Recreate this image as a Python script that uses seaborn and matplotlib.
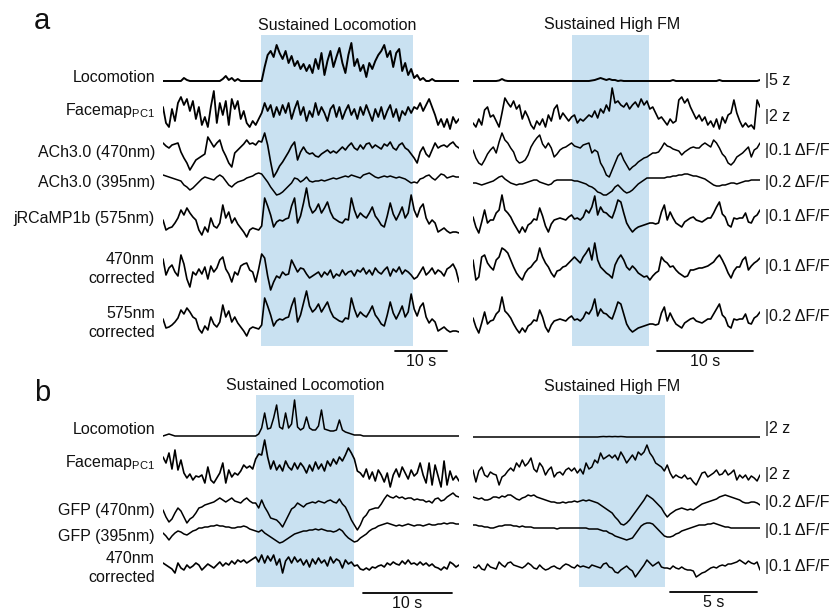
import numpy as np
import matplotlib
matplotlib.use('Agg')
import matplotlib.pyplot as plt
import seaborn as sns
from matplotlib.patches import Rectangle

sns.set_theme(style='white')
plt.rcParams['font.family'] = ['Liberation Sans', 'DejaVu Sans']
plt.rcParams['mathtext.default'] = 'regular'
plt.rcParams['text.color'] = '#111111'

W, H = 833, 613

# ---------------- data (trace values, px-like units, up = positive) ----------------
# Panel a, left (Sustained Locomotion), 57 s window
aL_loco = [0,0,0,0,0,0,0,3,1,0, 0,0,0,0,0,0,0,0,0,0, 2,5,1,3,0,2,0,0,0,0, 0,0,0,0,
           14,26,30,24,36,28,22,30,18,25,15,20,12,17,10,16,8,22,12,28,6,20,30,14,24,33,18,8,26,38,
           15,22,10,16,4,18,12,20,26,30,36,24,30,14,28,32,10,18,6,12,3,
           6,1,3,0,0,2,0,0,0,0,0,0,0,0,0]
aL_fm = [6,-10,-14,4,-8,10,16,8,14,2,12,-6,6,-12,-4,-14,6,22,-10,10,-2,12,-12,14,4,12,-6,2,-10,-14,-8,-12,-6,
         0,10,2,8,-4,6,-2,8,0,10,-6,4,12,-2,6,-8,2,-4,10,-2,6,0,-8,4,8,-4,6,-6,2,8,-2,4,-6,6,-2,8,0,-8,4,-4,6,-6,2,8,-4,4,-8,2,-2,6,0,6,
         4,10,2,8,14,6,-2,-12,-6,-14,-6,-16,-4,-10,-6]
aL_ach470 = [7,4,2,5,6,7,-2,-8,-13,-20,-15,-10,-8,-6,-4,13,8,3,7,10,0,-6,-13,-17,-3,0,3,6,10,6,
             7,5,9,8,17,5,-12,-27,-22,-16,-12,-7,-2,4,8,-10,-2,3,-2,-4,-3,-6,-7,-4,-2,0,-3,-1,-3,0,
             3,0,4,7,2,0,5,1,6,7,2,5,3,1,6,4,8,2,0,5,7,2,0,-4,-8,-13,-2,3,-4,-7,0,7,2,4,5,3,6,8,4,2]
aL_ach395 = [8,7,6,5,4,3,2,-2,-4,-7,-5,-2,1,4,6,5,4,3,6,8,6,2,-2,-4,-1,1,2,3,5,6,
             7,9,10,9,5,1,-4,-8,-12,-11,-9,-6,-3,0,5,4,1,3,6,2,1,2,2,3,2,3,4,5,4,5,
             6,7,6,8,7,6,5,8,9,10,8,6,5,6,7,6,7,6,5,6,5,4,2,0,1,0,4,5,7,8,5,3,6,9,8,5,6,7,6,6]
aL_rcamp = [8,-2,0,1,5,10,18,13,20,15,11,8,-2,-7,1,-4,10,2,0,5,23,10,16,5,10,4,0,-4,-9,-2,
            0,-1,-2,2,30,22,13,1,6,8,7,9,10,22,30,5,12,25,40,22,15,18,24,15,20,26,16,10,8,6,
            5,9,8,30,18,10,15,12,10,15,21,12,8,3,1,12,25,14,8,14,21,10,15,33,18,11,20,24,10,4,
            8,5,-4,-2,0,-3,-5,-4,-4,-5]
aL_470c = [13,-3,4,7,0,-4,17,8,-7,-15,0,-3,3,-2,5,-7,6,0,4,12,15,3,-2,-10,0,-3,6,8,9,2,
           0,-10,3,18,14,-4,-18,-10,-4,-6,0,-3,-2,12,6,0,4,3,-2,-6,-4,-2,0,-5,0,-3,2,-6,-2,-4,
           2,-3,0,1,-4,2,0,4,-2,2,-3,4,0,-2,2,5,-4,3,0,5,-2,2,0,-3,-7,-5,0,5,-3,0,4,-2,2,0,-4,3,5,8,2,-10]
aL_575c = [8,-1,0,2,5,9,17,13,19,15,10,8,-2,-6,1,-3,10,3,0,5,22,10,16,5,10,4,0,-4,-9,-2,
           0,-1,-2,2,29,21,12,1,6,8,7,9,10,21,29,5,12,24,36,21,15,18,23,15,20,25,16,10,8,6,
           5,9,8,29,18,10,15,12,10,15,21,12,8,3,1,12,25,14,8,14,21,10,15,33,18,11,20,24,10,4,
           8,5,-4,-2,0,-3,-5,-4,-4,-5]

# Panel a, right (Sustained High FM), 29.6 s window
aR_loco = [0,0,0,0,0,0,0,0,0,0.5,2,0.5,0,0,0,0,0,0,0,0, 0,0,0,0,0,0,0,0,0,0,
           0,0,0,0,0,0,0,0,0,0, 0,0.5,1,2,3,2,1,2,1,1, 0,0.5,0,0,0,0,0,0,0,0,
           0,0,0,0,0,0,0,0,0,1, 0,0,0,0,0,0,0,0,0,0, 0,0,0,0,0,1,0,0,0,0,
           0,0,0,0,0,0,0,0,0,1]
aR_fm = [-8,-12,-4,-10,5,8,-2,0,-6,-12,2,17,12,8,14,6,10,-4,4,-2,-10,-14,-6,-10,-4,-12,0,-6,6,10,
         -4,2,-2,-6,-2,0,-8,-4,-6,-3,0,-2,4,-3,6,2,10,4,27,12,14,10,8,12,6,10,13,8,16,10,
         14,6,8,2,-4,-2,-6,-10,-4,-8,-6,15,18,12,16,8,2,-4,0,-6,-2,-10,-6,-12,-4,-14,-2,-8,0,2,
         15,2,-6,-12,-8,-12,-10,-14,15,8]
aR_ach470 = [0,-8,-13,-15,-10,-4,0,3,-3,8,17,10,7,2,-2,-10,-13,-12,-10,-5,3,8,12,15,6,2,7,2,-7,-4,
             0,2,3,5,7,4,3,2,5,6,7,-3,0,-2,-13,-18,-25,-27,-20,-13,-6,-3,-10,-15,-20,-17,-15,-12,-10,-8,
             -7,-5,-3,-3,-2,2,7,4,3,1,0,-1,-5,-2,0,2,3,2,2,5,7,5,3,10,7,2,-4,-7,-13,-15,
             -12,-7,-5,-3,0,3,-7,0,2,7]
aR_ach395 = [0,0,-1,-2,-1,0,1,2,4,6,7,4,2,0,-1,-2,-1,-1,0,1,2,3,3,1,0,-1,-2,-1,2,3,
             3,3,3,3,3,2,2,1,0,-1,-3,-4,-6,-9,-10,-12,-12,-10,-8,-4,-2,-5,-8,-10,-9,-7,-4,-1,1,3,
             5,5,5,5,5,5,5,6,6,7,7,8,8,9,9,8,7,7,6,5,4,2,0,-2,-3,-3,-2,-2,-1,0,
             0,-1,0,1,2,2,3,3,3,3]
aR_rcamp = [5,-5,-11,0,12,-1,2,2,9,12,27,12,9,5,-1,-6,-11,-5,-10,-3,-1,3,2,14,6,-4,-10,-2,2,3,
            4,3,2,5,7,3,4,2,5,12,9,15,26,7,15,10,9,6,4,12,22,20,9,-1,-6,-10,-7,-5,-4,-3,
            -2,-1,-1,-2,-1,10,17,2,10,4,-1,-3,-5,0,2,4,5,2,1,0,2,4,4,9,15,20,8,5,-3,-5,
            4,3,4,4,9,0,-1,5,7,12]
aR_470c = [3,-17,-14,6,8,0,-4,-7,3,6,15,13,10,3,-4,-10,-14,-17,-10,-6,-4,0,3,15,6,0,-4,-10,-14,-8,
           -7,-4,-3,0,3,6,3,0,6,10,15,3,20,3,-4,-7,-10,-12,-15,-2,4,8,3,-4,-7,-3,-6,-10,-12,-14,
           -13,-17,-13,-10,-8,6,2,0,-4,-3,-7,-10,-12,-14,-13,-7,-7,-6,-5,-5,-4,-3,-1,1,5,8,3,-3,-10,-15,
           -8,-4,-4,3,6,-7,-3,0,2,5]
aR_575c = [5,-4,-10,0,11,-1,2,3,9,12,26,12,9,5,-1,-6,-10,-5,-9,-3,-1,3,2,13,6,-4,-9,-2,2,3,
           4,3,2,5,7,3,4,2,5,11,9,14,24,7,14,10,9,6,4,12,21,19,9,-1,-6,-9,-7,-5,-4,-3,
           -2,-1,-1,-2,-1,10,16,2,10,4,-1,-3,-5,0,2,4,5,2,1,0,2,4,4,9,14,19,8,5,-3,-5,
           4,3,4,4,9,0,-1,5,7,11]

# Panel b, left (Sustained Locomotion), 33.3 s window
bL_loco = [0,1,2,1,0,0,0,0,0,0, 0,0,0,0,0,0,0,0,0,0, 0,0,0,0,0,0,0,0,0,0, 0,0,2,8,
           23,7,8,18,31,9,7,23,8,12,36,9,6,8,19,8,6,6,10,26,7,6,5,5,6,16,6,4,3,2,1,1,1,
           0,0,0,0,0,0,0,0,0,0, 0,0,0,0,0,0,0,0,0,0, 0,0,0,0,0,0,0,0,0,0, 0,0,0]
bL_fm = [10,4,14,-2,17,-3,7,-6,-11,-7,-13,-9,-10,-8,-16,0,-13,-16,-11,-6,4,-16,-3,-10,-6,-8,-4,2,-1,1,
         -2,8,13,12,27,10,-2,6,-3,2,-4,6,0,-3,4,-2,4,0,-6,2,-4,5,-2,3,-4,6,1,8,3,10,
         6,12,19,14,8,-4,-6,-10,-2,-12,-5,-14,-3,-8,-15,-6,-20,-8,-2,-10,0,-6,-12,-3,-9,-6,4,-8,-16,4,
         -18,2,-9,-20,6,-18,-4,-13,-9,-14]
bL_gfp470 = [3,-4,-9,-6,0,5,2,-4,-10,-6,-4,0,5,6,8,9,10,11,13,15,13,11,13,15,12,11,10,13,15,12,
             10,10,5,13,6,1,-5,-6,-7,-10,-14,-8,-2,4,6,10,8,6,9,10,11,10,12,11,10,12,13,11,10,14,
             9,6,0,-7,-12,-17,-12,-5,-2,3,4,5,5,9,14,18,16,15,17,15,16,14,15,15,13,14,13,13,11,12,
             10,14,15,12,13,16,18,20,17,16]
bL_gfp395 = [0,-3,-7,-3,0,2,1,-1,-2,0,2,3,5,5,6,6,7,7,8,7,7,6,6,5,5,6,6,7,6,4,
             3,2,1,3,0,-2,-4,-6,-8,-10,-9,-7,-5,-3,-1,0,1,2,2,3,3,4,3,4,3,2,2,1,2,4,
             2,-2,-5,-7,-9,-8,-5,-3,-1,2,4,5,7,8,9,10,9,8,7,8,7,8,9,8,7,8,8,7,8,9,
             8,8,9,9,10,9,10,10,9,9]
bL_470c = [2,0,-2,-4,-8,2,-3,-5,0,-3,-1,2,0,-5,-2,1,-1,-3,0,3,-1,2,0,4,1,5,3,5,2,4,
           6,8,3,10,2,9,4,10,0,6,-8,4,8,2,8,3,6,0,5,-2,6,1,7,2,5,-1,8,2,6,4,
           -3,5,1,3,-1,0,-4,-5,-3,-5,-2,-3,-1,0,-2,2,0,3,1,0,4,1,5,1,2,0,3,0,2,-1,
           1,-2,-3,-5,-2,-4,3,1,-2,0]

# Panel b, right (Sustained High FM), 16.5 s window
bR_loco = [0,0,0,0,0,0,0,0,0,0, 0,0,0,0,0,0,0,0,0,0, 0,0,0,0,0,0,0,0,0,0,
           0,0,0,0,0,0,0,0,0,0, 0,0,0,0,0.3,0.5,0.3,0.5,0.3,0.5, 0.3,0.5,0.3,0,0,0,0,0,0,0,
           0,0,0,0,0,0,0,0,0,0, 0,0,0,0,0,0,0,0,0,0, 0,0,0,0,0,0,0,0,0,0,
           0,0,0,0,0,0,0,0,0,0]
bR_fm = [3,-9,2,6,-2,-4,1,-1,-2,-12,-4,-2,2,5,2,10,6,13,7,10,15,4,1,10,6,-2,3,6,-4,0,
         1,-2,3,5,2,5,0,4,-1,10,4,6,13,10,20,14,16,18,15,18,13,21,16,10,14,18,13,21,18,21,
         28,20,16,10,8,6,2,8,0,-5,-2,-4,-5,-2,-6,-5,-9,-12,-6,0,1,-4,-2,0,3,-2,-1,3,-2,0,
         3,-7,-2,-5,-2,-7,-3,-5,-8,-2]
bR_gfp470 = [3,2,1,2,0,0,1,3,3,2,4,3,5,5,3,1,0,2,3,5,4,5,3,2,1,0,-1,-2,-2,-3,
             -3,-2,-3,-2,-2,-1,-2,-1,0,-1,0,-1,-2,-3,-5,-7,-9,-11,-13,-17,-20,-24,-25,-23,-20,-16,-12,-8,-4,0,
             5,3,1,-2,-5,-8,-13,-17,-14,-12,-10,-9,-8,-9,-10,-9,-10,-8,-6,-4,-3,-2,-1,0,1,3,4,5,4,3,
             2,1,0,-2,-3,-3,-2,-2,-3,-5]
bR_gfp395 = [2,2,1,1,0,0,-1,-1,0,1,1,2,2,2,1,1,0,1,0,0,0,-1,-1,-1,-1,-1,-1,-1,-1,-2,
             -1,-1,-1,-1,-1,-1,-1,-1,-1,-1,-2,-2,-2,-2,-3,-4,-4,-6,-7,-9,-10,-11,-12,-13,-12,-11,-7,-3,1,3,
             4,4,3,0,-3,-6,-9,-10,-10,-9,-7,-6,-4,-3,-2,-1,0,1,2,2,2,3,3,4,3,2,1,0,0,-1,
             -1,-1,-1,-1,-1,-1,-1,-1,-1,-1]
bR_470c = [0,-1,2,-2,-3,3,0,-1,-2,5,2,0,4,5,2,1,0,-1,1,4,2,-1,-2,2,-1,-3,-2,0,1,-1,
           -2,1,3,2,0,-1,2,0,1,0,-1,2,1,0,-1,3,4,0,-1,-5,-6,-3,-1,1,-2,-4,-10,-6,-2,2,
           7,4,1,3,5,0,-1,-1,-2,1,-1,-2,0,-2,-3,-3,-4,-10,-8,-6,-5,-3,-1,0,-1,1,2,1,3,3,
           4,5,7,5,3,6,4,3,5,-3]

left_labels_a = ["Locomotion", "Facemap$_{PC1}$", "ACh3.0 (470nm)", "ACh3.0 (395nm)",
                 "jRCaMP1b (575nm)", "470nm\ncorrected", "575nm\ncorrected"]
scale_labels_a = ["|5 z", "|2 z", "|0.1 \u0394F/F", "|0.2 \u0394F/F", "|0.1 \u0394F/F",
                  "|0.1 \u0394F/F", "|0.2 \u0394F/F"]
left_labels_b = ["Locomotion", "Facemap$_{PC1}$", "GFP (470nm)", "GFP (395nm)", "470nm\ncorrected"]
scale_labels_b = ["|2 z", "|2 z", "|0.2 \u0394F/F", "|0.1 \u0394F/F", "|0.1 \u0394F/F"]

# ---------------- layout ----------------
SHADE = '#c9e1f1'
fig = plt.figure(figsize=(W / 100, H / 100), dpi=100)


def panel(x0, x1, dur, traces, bases, shade, shade_y, bar, bar_y, bar_label, lws=None):
    ax = fig.add_axes([x0 / W, 0, (x1 - x0) / W, 1])
    ax.add_patch(Rectangle((shade[0], shade_y[0]), shade[1] - shade[0], shade_y[1] - shade_y[0],
                           facecolor=SHADE, edgecolor='none', zorder=0))
    for k, (vals, base) in enumerate(zip(traces, bases)):
        v = np.asarray(vals, dtype=float)
        t = np.linspace(0, dur, len(v))
        lw = lws[k] if lws else 1.1
        sns.lineplot(x=t, y=base - v, ax=ax, color='black', lw=lw, estimator=None,
                     sort=False, legend=False, zorder=3)
    sns.lineplot(x=[bar[0], bar[1]], y=[bar_y, bar_y], ax=ax, color='black', lw=1.3,
                 estimator=None, legend=False)
    ax.text((bar[0] + bar[1]) / 2, bar_y + 3, bar_label, ha='center', va='top', fontsize=11.5)
    ax.set_xlim(0, dur)
    ax.set_ylim(H, 0)
    ax.axis('off')
    return ax


# panel a
panel(163, 459, 57.0, [aL_loco, aL_fm, aL_ach470, aL_ach395, aL_rcamp, aL_470c, aL_575c],
      [81, 113, 150, 183, 228, 272, 327], (18.9, 48.1), (35, 346), (44.7, 54.6), 351, "10 s",
      lws=[1.4, 1.3, 1.2, 1.1, 1.2, 1.2, 1.2])
panel(473, 760, 29.6, [aR_loco, aR_fm, aR_ach470, aR_ach395, aR_rcamp, aR_470c, aR_575c],
      [81, 115, 150, 183, 222, 263, 323], (10.2, 18.15), (35, 346), (19.0, 28.9), 351, "10 s",
      lws=[1.4, 1.2, 1.1, 1.1, 1.2, 1.2, 1.2])
# panel b
panel(163, 459, 33.3, [bL_loco, bL_fm, bL_gfp470, bL_gfp395, bL_470c],
      [436, 467, 513, 533, 565], (10.45, 21.5), (395, 587), (22.5, 32.5), 593, "10 s",
      lws=[1.1, 1.2, 1.1, 1.1, 1.2])
panel(473, 760, 16.5, [bR_loco, bR_fm, bR_gfp470, bR_gfp395, bR_470c],
      [437, 473, 500, 527, 567], (6.1, 11.05), (395, 587), (11.35, 16.35), 592, "5 s",
      lws=[1.1, 1.1, 1.1, 1.1, 1.1])

# text overlay in pixel units
tx = fig.add_axes([0, 0, 1, 1])
tx.set_xlim(0, W)
tx.set_ylim(H, 0)
tx.axis('off')
tx.patch.set_alpha(0)

FS = 11.5
tx.text(34, 21, "a", fontsize=21, ha='left', va='center')
tx.text(34, 393, "b", fontsize=21, ha='left', va='center')
tx.text(337, 25, "Sustained Locomotion", fontsize=FS, ha='center', va='center')
tx.text(612, 25, "Sustained High FM", fontsize=FS, ha='center', va='center')
tx.text(305, 386, "Sustained Locomotion", fontsize=FS, ha='center', va='center')
tx.text(612, 386, "Sustained High FM", fontsize=FS, ha='center', va='center')

ya = [78, 111, 153, 183, 218, 269, 323]
for lab, y in zip(left_labels_a, ya):
    tx.text(155, y, lab, fontsize=FS, ha='right', va='center', linespacing=1.35)
yb = [430, 463, 510, 537, 568]
for lab, y in zip(left_labels_b, yb):
    tx.text(155, y, lab, fontsize=FS, ha='right', va='center', linespacing=1.35)

ra = [81, 116, 150, 183, 216, 266, 316]
for lab, y in zip(scale_labels_a, ra):
    tx.text(765, y, lab, fontsize=FS, ha='left', va='center')
rb = [429, 475, 502, 530, 567]
for lab, y in zip(scale_labels_b, rb):
    tx.text(765, y, lab, fontsize=FS, ha='left', va='center')

fig.savefig("out.png", dpi=100)
